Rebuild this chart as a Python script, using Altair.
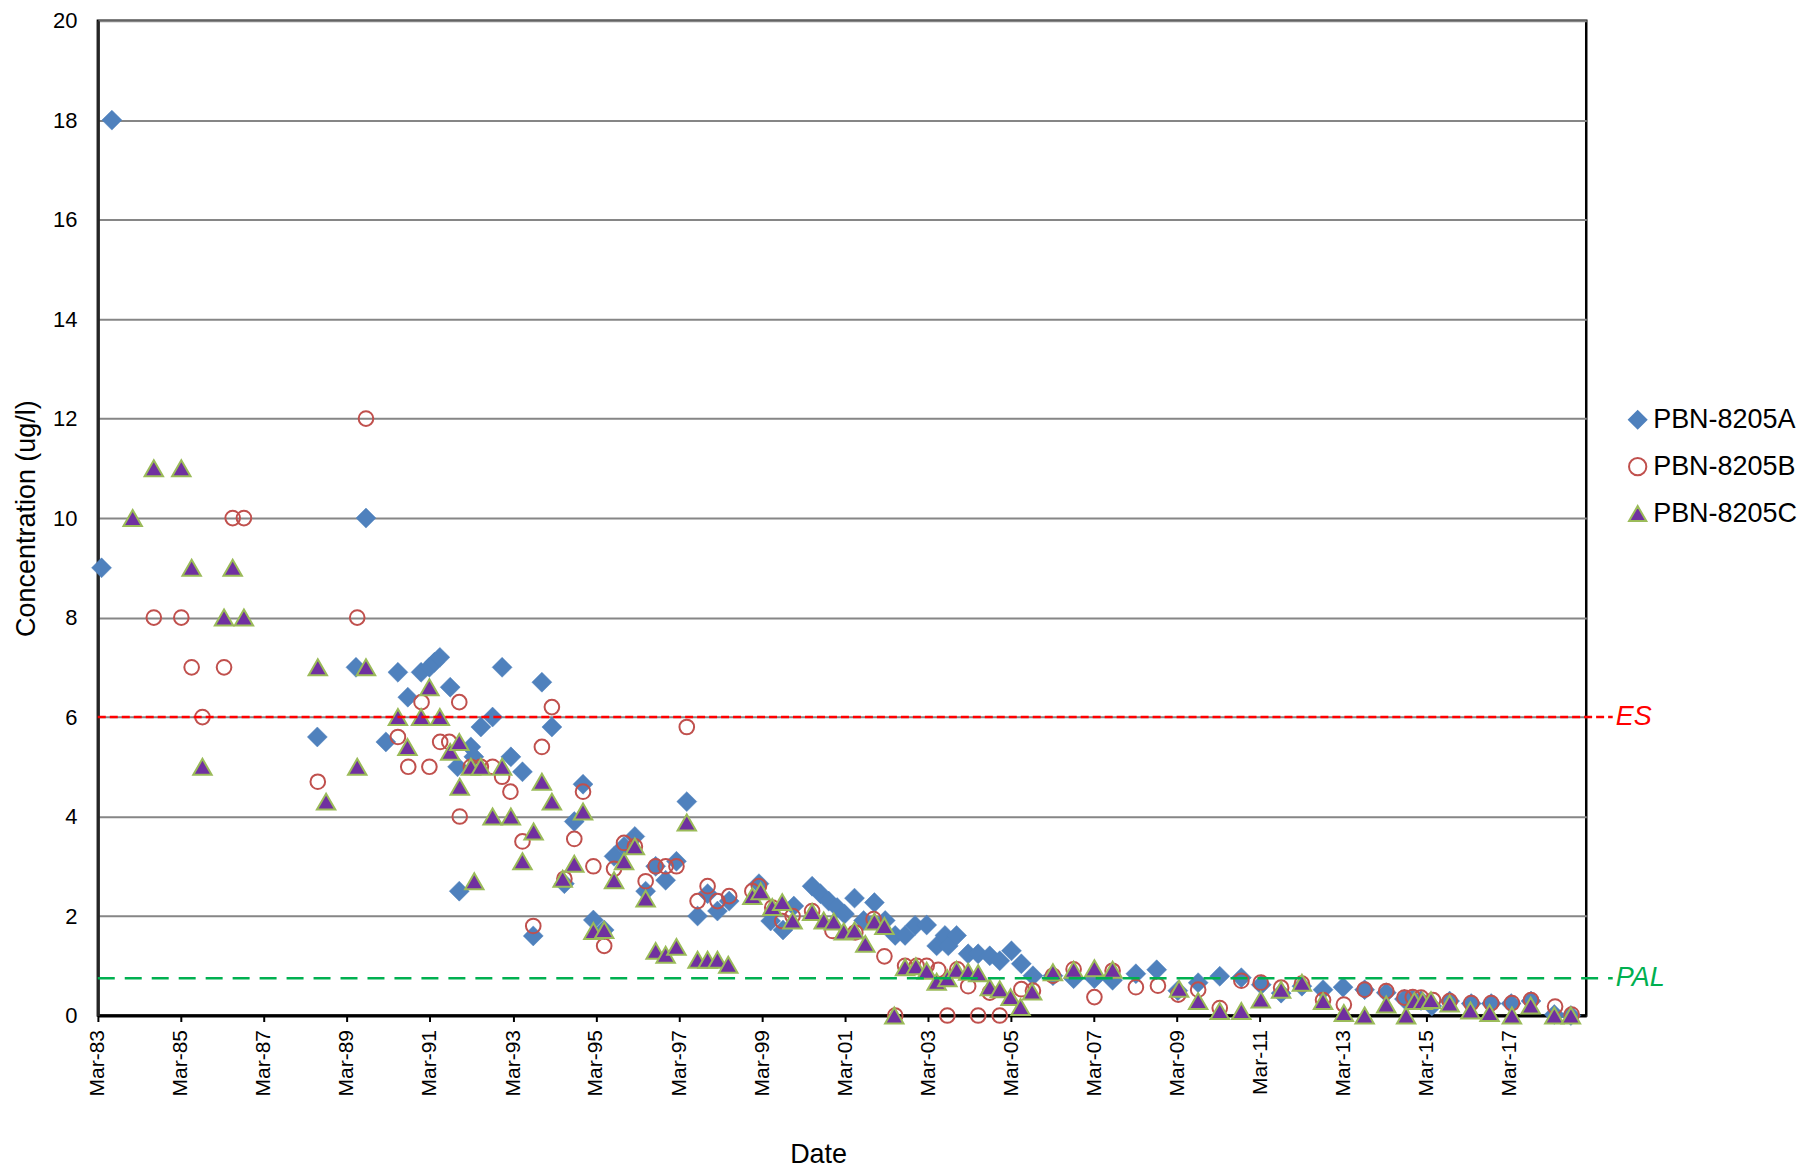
import altair as alt
import pandas as pd
import numpy as np

# ---------------- data (decimal years) ----------------
series_names = ["PBN-8205A", "PBN-8205B", "PBN-8205C"]

a_year = [1983.25, 1983.50, 1988.45, 1989.38, 1989.62, 1990.10, 1990.39, 1990.63, 1990.95,
          1991.15, 1991.27, 1991.40, 1991.65, 1991.83, 1991.87, 1992.15, 1992.22, 1992.39,
          1992.67, 1992.90, 1993.11, 1993.39, 1993.65, 1993.86, 1994.10, 1994.40, 1994.64,
          1994.85, 1995.10, 1995.36, 1995.60, 1995.84, 1996.10, 1996.36, 1996.60, 1996.84,
          1997.10, 1997.35, 1997.61, 1997.85, 1998.09, 1998.37, 1999.09, 1999.37, 1999.67,
          1999.93, 2000.37, 2000.57, 2000.77, 2000.97, 2001.15, 2001.39, 2001.61, 2001.87,
          2002.13, 2002.37, 2002.61, 2002.85, 2003.13, 2003.37, 2003.57, 2003.65, 2003.85,
          2004.13, 2004.37, 2004.65, 2004.89, 2005.17, 2005.41, 2005.69, 2006.17, 2006.67,
          2007.17, 2007.61, 2008.17, 2008.67, 2009.18, 2009.67, 2010.19, 2010.71, 2011.19,
          2011.67, 2012.17, 2012.68, 2013.16, 2013.68, 2014.20, 2014.64, 2014.84, 2015.04,
          2015.30, 2015.73, 2016.25, 2016.73, 2017.21, 2017.69, 2018.25, 2018.65]
a_val = [9.0, 18.0, 5.6, 7.0, 10.0, 5.5, 6.9, 6.4, 6.9,
         7.0, 7.1, 7.2, 6.6, 5.0, 2.5, 5.4, 5.2, 5.8,
         6.0, 7.0, 5.2, 4.9, 1.6, 6.7, 5.8, 2.65, 3.9,
         4.65, 1.92, 1.72, 3.2, 3.4, 3.6, 2.5, 3.0, 2.72,
         3.1, 4.3, 2.0, 2.45, 2.1, 2.3, 2.65, 1.9, 1.72,
         2.2, 2.6, 2.45, 2.3, 2.17, 2.04, 2.36, 1.91, 2.27,
         1.91, 1.61, 1.61, 1.81, 1.82, 1.40, 1.61, 1.40, 1.61,
         1.24, 1.24, 1.20, 1.10, 1.30, 1.04, 0.80, 0.80, 0.74,
         0.74, 0.71, 0.84, 0.92, 0.50, 0.66, 0.79, 0.76, 0.62,
         0.45, 0.59, 0.52, 0.57, 0.52, 0.46, 0.33, 0.33, 0.30,
         0.19, 0.29, 0.24, 0.24, 0.24, 0.29, 0.02, 0.0]

b_year = [1984.51, 1985.17, 1985.42, 1985.68, 1986.20, 1986.41, 1986.68, 1988.46, 1989.41,
          1989.62, 1990.39, 1990.64, 1990.96, 1991.15, 1991.41, 1991.63, 1991.87, 1991.88,
          1992.15, 1992.39, 1992.67, 1992.90, 1993.10, 1993.39, 1993.65, 1993.86, 1994.10,
          1994.40, 1994.64, 1994.85, 1995.10, 1995.36, 1995.60, 1995.84, 1996.10, 1996.36,
          1996.60, 1996.84, 1997.10, 1997.35, 1997.61, 1997.85, 1998.09, 1998.37, 1998.93,
          1999.09, 1999.41, 1999.65, 1999.90, 2000.37, 2000.86, 2001.41, 2001.85, 2002.11,
          2002.37, 2002.61, 2002.89, 2003.13, 2003.41, 2003.63, 2003.87, 2004.13, 2004.37,
          2004.65, 2004.89, 2005.41, 2005.69, 2006.17, 2006.67, 2007.17, 2007.61, 2008.17,
          2008.70, 2009.19, 2009.67, 2010.19, 2010.71, 2011.18, 2011.67, 2012.17, 2012.68,
          2013.18, 2013.68, 2014.20, 2014.64, 2014.84, 2015.04, 2015.33, 2015.73, 2016.25,
          2016.73, 2017.23, 2017.69, 2018.27, 2018.67]
b_val = [8.0, 8.0, 7.0, 6.0, 7.0, 10.0, 10.0, 4.7, 8.0,
         12.0, 5.6, 5.0, 6.3, 5.0, 5.5, 5.5, 6.3, 4.0,
         5.0, 5.0, 5.0, 4.8, 4.5, 3.5, 1.8, 5.4, 6.2,
         2.75, 3.55, 4.5, 3.0, 1.4, 2.95, 3.47, 3.4, 2.7,
         3.0, 3.0, 3.0, 5.8, 2.3, 2.6, 2.3, 2.4, 2.5,
         2.6, 2.17, 1.9, 2.0, 2.1, 1.7, 1.67, 1.94, 1.19,
         0.0, 1.0, 1.0, 1.0, 0.92, 0.0, 0.93, 0.59, 0.0,
         0.46, 0.0, 0.53, 0.50, 0.80, 0.93, 0.37, 0.90, 0.57,
         0.60, 0.42, 0.52, 0.15, 0.70, 0.66, 0.56, 0.64, 0.31,
         0.22, 0.52, 0.49, 0.36, 0.37, 0.36, 0.31, 0.29, 0.25,
         0.25, 0.25, 0.31, 0.18, 0.02]

c_year = [1984.00, 1984.51, 1985.17, 1985.42, 1985.68, 1986.20, 1986.41, 1986.68, 1988.46,
          1988.66, 1989.41, 1989.62, 1990.39, 1990.62, 1990.95, 1991.15, 1991.40, 1991.65,
          1991.87, 1991.88, 1992.15, 1992.23, 1992.39, 1992.67, 1992.90, 1993.11, 1993.39,
          1993.66, 1993.86, 1994.10, 1994.36, 1994.64, 1994.85, 1995.10, 1995.36, 1995.60,
          1995.84, 1996.10, 1996.36, 1996.60, 1996.84, 1997.10, 1997.35, 1997.61, 1997.85,
          1998.09, 1998.35, 1998.93, 1999.13, 1999.41, 1999.65, 1999.90, 2000.37, 2000.65,
          2000.89, 2001.13, 2001.39, 2001.65, 2001.87, 2002.11, 2002.35, 2002.61, 2002.87,
          2003.13, 2003.37, 2003.63, 2003.85, 2004.13, 2004.37, 2004.65, 2004.89, 2005.15,
          2005.39, 2005.67, 2006.17, 2006.67, 2007.17, 2007.61, 2009.21, 2009.67, 2010.19,
          2010.71, 2011.18, 2011.67, 2012.17, 2012.68, 2013.18, 2013.68, 2014.20, 2014.68,
          2014.88, 2015.08, 2015.28, 2015.73, 2016.23, 2016.69, 2017.23, 2017.68, 2018.25,
          2018.65]
c_val = [10.0, 11.0, 11.0, 9.0, 5.0, 8.0, 9.0, 8.0, 7.0,
         4.3, 5.0, 7.0, 6.0, 5.4, 6.0, 6.6, 6.0, 5.3,
         5.5, 4.6, 5.0, 2.7, 5.0, 4.0, 5.0, 4.0, 3.1,
         3.7, 4.7, 4.3, 2.75, 3.05, 4.1, 1.7, 1.72, 2.72,
         3.1, 3.4, 2.35, 1.3, 1.22, 1.38, 3.88, 1.12, 1.12,
         1.12, 1.02, 2.4, 2.5, 2.18, 2.28, 1.91, 2.08, 1.91,
         1.89, 1.69, 1.71, 1.44, 1.89, 1.8, 0.0, 0.97, 0.99,
         0.9, 0.68, 0.75, 0.92, 0.88, 0.85, 0.57, 0.53, 0.37,
         0.17, 0.48, 0.87, 0.92, 0.95, 0.92, 0.54, 0.29, 0.09,
         0.09, 0.32, 0.52, 0.66, 0.29, 0.05, 0.0, 0.22, 0.0,
         0.29, 0.29, 0.31, 0.24, 0.10, 0.05, 0.0, 0.20, 0.0,
         0.0]

es_value = 6.0
pal_value = 0.75
ref_start = 1983.16
ref_end = 2019.66

fill_colors = ["#4F81BD", "transparent", "#7030A0"]
stroke_colors = ["#4F81BD", "#C0504D", "#9BBB59"]
shapes = ["diamond", "circle", "triangle-up"]
sizes = [400, 215, 340]
stroke_widths = [0.5, 2, 2]


def to_date(y):
    yi = int(np.floor(y))
    start = pd.Timestamp(year=yi, month=1, day=1)
    end = pd.Timestamp(year=yi + 1, month=1, day=1)
    return (start + (end - start) * (y - yi)).strftime("%Y-%m-%d")


rows = []
for name, ys, vs in zip(series_names, [a_year, b_year, c_year], [a_val, b_val, c_val]):
    for y, v in zip(ys, vs):
        rows.append({"date": to_date(y), "value": v, "series": name})
df = pd.DataFrame(rows)

ref_df = pd.DataFrame({
    "start": [to_date(ref_start)] * 2,
    "end": [to_date(ref_end)] * 2,
    "value": [es_value, pal_value],
    "label": ["ES", "PAL"],
})

FONT = "Liberation Sans"

x_scale = alt.Scale(type="utc",
                    domain=[alt.DateTime(year=1983, month=3, date=1, utc=True),
                            alt.DateTime(year=2019, month=1, date=8, utc=True)],
                    nice=False)
y_scale = alt.Scale(domain=[0, 20], nice=False, zero=True)

legend = alt.Legend(title=None, orient="none", legendX=1528, legendY=386,
                    labelFontSize=27, labelFont=FONT, labelColor="black",
                    labelLimit=0, symbolSize=300, symbolStrokeWidth=2,
                    rowPadding=19, labelOffset=2)

x_enc = alt.X("date:T", scale=x_scale,
              axis=alt.Axis(values=[alt.DateTime(year=yy, month=3, date=1, utc=True)
                                    for yy in range(1983, 2018, 2)],
                            format="%b-%y", labelAngle=270, labelFontSize=21,
                            labelColor="black", labelFont=FONT,
                            tickSize=6, tickWidth=2, tickColor="black",
                            domainColor="black", domainWidth=3, grid=False,
                            labelPadding=8, title="Date", titleFontSize=27,
                            titleFontWeight="normal", titleFont=FONT, titleColor="black",
                            titlePadding=46, titleX=721))
y_enc = alt.Y("value:Q", scale=y_scale,
              axis=alt.Axis(values=list(range(0, 21, 2)), title="Concentration (ug/l)",
                            titleFontSize=27, titleFontWeight="normal", titleFont=FONT,
                            titleColor="black", titlePadding=12,
                            labelFontSize=22, labelFont=FONT, labelColor="black",
                            ticks=False, labelPadding=21,
                            domainColor="#262626", domainWidth=3,
                            grid=True, gridColor="#868686", gridWidth=2))

base = alt.Chart(df).encode(
    x=x_enc,
    y=y_enc,
    shape=alt.Shape("series:N", scale=alt.Scale(domain=series_names, range=shapes), legend=legend),
    fill=alt.Fill("series:N", scale=alt.Scale(domain=series_names, range=fill_colors), legend=legend),
    stroke=alt.Stroke("series:N", scale=alt.Scale(domain=series_names, range=stroke_colors), legend=legend),
)

point_layers = []
for name, sz, sw in zip(series_names, sizes, stroke_widths):
    point_layers.append(
        base.transform_filter(alt.datum.series == name)
        .mark_point(filled=True, opacity=1, size=sz, strokeWidth=sw)
    )

es_df = ref_df[ref_df.label == "ES"]
pal_df = ref_df[ref_df.label == "PAL"]

es_line = alt.Chart(es_df).mark_rule(color="#FF0000", strokeWidth=2.5, strokeDash=[8, 4], clip=False).encode(
    x="start:T", x2="end:T", y="value:Q")
pal_line = alt.Chart(pal_df).mark_rule(color="#00B050", strokeWidth=2.5, strokeDash=[17, 10], clip=False).encode(
    x="start:T", x2="end:T", y="value:Q")
es_text = alt.Chart(es_df).mark_text(align="left", baseline="middle", dx=3, fontSize=27,
                                      fontStyle="italic", font=FONT, color="#FF0000").encode(
    x="end:T", y="value:Q", text="label:N")
pal_text = alt.Chart(pal_df).mark_text(align="left", baseline="middle", dx=3, fontSize=27,
                                        fontStyle="italic", font=FONT, color="#00B050").encode(
    x="end:T", y="value:Q", text="label:N")

chart = alt.layer(*point_layers, es_line, pal_line, es_text, pal_text).properties(
    width=1490, height=996,
    autosize=alt.AutoSizeParams(type="none"),
    padding={"left": 90, "top": 12, "right": 216, "bottom": 155},
).configure(font=FONT).configure_view(stroke="black", strokeWidth=2.5)

chart.save("out.html", embed_options={"renderer": "svg", "actions": False})
